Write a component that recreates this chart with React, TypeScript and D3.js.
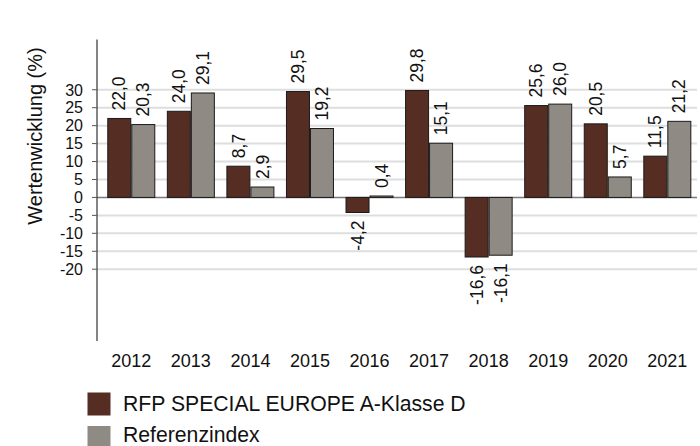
import React from "react";
import * as d3 from "d3";

const years = ["2012", "2013", "2014", "2015", "2016", "2017", "2018", "2019", "2020", "2021"];
const fundValues = [22.0, 24.0, 8.7, 29.5, -4.2, 29.8, -16.6, 25.6, 20.5, 11.5];
const indexValues = [20.3, 29.1, 2.9, 19.2, 0.4, 15.1, -16.1, 26.0, 5.7, 21.2];
const seriesNames = ["RFP SPECIAL EUROPE A-Klasse D", "Referenzindex"];
const seriesColors = ["#552d22", "#8f8b84"];
const yTicks = [30, 25, 20, 15, 10, 5, 0, -5, -10, -15, -20];
const yTitle = "Wertenwicklung (%)";

const W = 700;
const H = 446;
const FONT = "'Liberation Sans', Arial, sans-serif";

export default function App() {
  const y = d3.scaleLinear().domain([-40, 44]).range([341, 39.5]);
  const x0 = d3
    .scaleBand<string>()
    .domain(years)
    .range([101.5, 697.1])
    .paddingInner(0.194)
    .paddingOuter(0.097);
  const x1 = d3.scaleBand<number>().domain([0, 1]).range([0, x0.bandwidth()]);
  const axisX = 97;
  const gridRight = 697;
  const fmt = (v: number) => v.toFixed(1).replace(".", ",");
  const series = [fundValues, indexValues];

  return (
    <svg
      width={W}
      height={H}
      style={{ position: "absolute", left: 0, top: 0, display: "block" }}
      fontFamily={FONT}
    >
      <rect x={0} y={0} width={W} height={H} fill="#fff" />
      {/* gridlines */}
      {yTicks.map((t) => (
        <line
          key={"g" + t}
          x1={axisX}
          x2={gridRight}
          y1={y(t)}
          y2={y(t)}
          stroke={t === 0 ? "#7a7a7a" : "#dedede"}
          strokeWidth={t === 0 ? 1.5 : 2}
        />
      ))}
      {/* bars */}
      {years.map((yr, i) =>
        series.map((vals, s) => {
          const v = vals[i];
          const bx = (x0(yr) as number) + (x1(s) as number);
          const bw = x1.bandwidth();
          const top = Math.min(y(v), y(0));
          const h = Math.abs(y(v) - y(0));
          return (
            <rect
              key={yr + s}
              x={bx + 0.5}
              y={top}
              width={bw - 1}
              height={h}
              fill={seriesColors[s]}
              stroke="#1a1a1a"
              strokeWidth={1}
            />
          );
        })
      )}
      {/* value labels */}
      {years.map((yr, i) =>
        series.map((vals, s) => {
          const v = vals[i];
          const cx = (x0(yr) as number) + (x1(s) as number) + x1.bandwidth() / 2;
          const pos = v >= 0;
          const ly = pos ? y(v) - 8 : y(v) + 8;
          return (
            <text
              key={"l" + yr + s}
              transform={`translate(${cx},${ly}) rotate(-90)`}
              textAnchor={pos ? "start" : "end"}
              dy="0.35em"
              fontSize={17.5}
              fill="#111"
            >
              {fmt(v)}
            </text>
          );
        })
      )}
      {/* y axis */}
      <line x1={axisX} x2={axisX} y1={y(44)} y2={y(-40)} stroke="#333" strokeWidth={1.2} />
      {yTicks.map((t) => (
        <g key={"t" + t}>
          <line x1={axisX - 5} x2={axisX} y1={y(t)} y2={y(t)} stroke="#555" strokeWidth={1} />
          <text x={83} y={y(t)} dy="0.36em" textAnchor="end" fontSize={16} fill="#111">
            {t}
          </text>
        </g>
      ))}
      <text
        transform={`translate(42,136) rotate(-90)`}
        textAnchor="middle"
        fontSize={20}
        fill="#111"
      >
        {yTitle}
      </text>
      {/* x labels */}
      {years.map((yr) => (
        <text
          key={"x" + yr}
          x={(x0(yr) as number) + x0.bandwidth() / 2}
          y={367}
          textAnchor="middle"
          fontSize={18}
          fill="#111"
        >
          {yr}
        </text>
      ))}
      {/* legend */}
      {seriesNames.map((n, s) => (
        <g key={"lg" + s}>
          <rect x={87.5} y={392.5 + s * 33.5} width={23} height={23} fill={seriesColors[s]} />
          <text x={123} y={411 + s * 31} fontSize={21.2} fill="#111">
            {n}
          </text>
        </g>
      ))}
    </svg>
  );
}
